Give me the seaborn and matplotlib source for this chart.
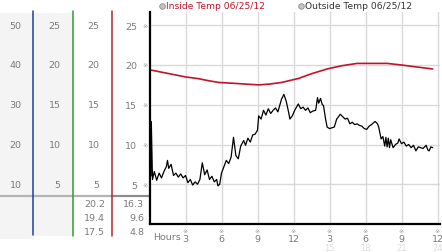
import matplotlib
matplotlib.use("Agg")
import matplotlib.pyplot as plt
import matplotlib.transforms as mtransforms
from matplotlib.patches import Rectangle
from matplotlib.lines import Line2D
import pandas as pd
import seaborn as sns

# ---------------- data ----------------
legend_labels = ["Inside Temp 06/25/12", "Outside Temp 06/25/12"]

inside_hours = [0.0, 1.0, 2.0, 3.0, 4.0, 5.0, 5.8, 7.0, 8.0, 9.1, 10.0, 11.0,
                12.4, 13.5, 14.8, 16.0, 17.3, 18.5, 19.8, 21.0, 22.0, 23.6]
inside_temp = [19.4, 19.1, 18.8, 18.5, 18.3, 18.0, 17.8, 17.7, 17.6, 17.5, 17.6, 17.8,
               18.3, 18.9, 19.5, 19.9, 20.2, 20.2, 20.2, 20.0, 19.8, 19.5]

outside_hours = [0.0, 0.05, 0.1, 0.15, 0.25, 0.4, 0.6, 0.8, 1.0, 1.2, 1.4, 1.5, 1.6, 1.8,
                 2.0, 2.2, 2.4, 2.6, 2.8, 3.0, 3.2, 3.4, 3.6, 3.8, 4.0, 4.2, 4.4, 4.6,
                 4.8, 5.0, 5.2, 5.4, 5.6, 5.7, 5.85, 6.0, 6.2, 6.4, 6.6, 6.8, 7.0, 7.2,
                 7.4, 7.6, 7.85, 8.0, 8.2, 8.4, 8.6, 8.8, 9.0, 9.1, 9.3, 9.5, 9.7, 9.9,
                 10.1, 10.3, 10.5, 10.7, 10.9, 11.0, 11.2, 11.4, 11.6, 11.7, 11.9, 12.1,
                 12.4, 12.6, 12.8, 13.0, 13.2, 13.4, 13.6, 13.85, 14.0, 14.1, 14.25, 14.4,
                 14.5, 14.65, 14.8, 15.0, 15.2, 15.4, 15.6, 15.8, 15.9, 16.1, 16.3, 16.5,
                 16.7, 16.9, 17.1, 17.3, 17.5, 17.7, 17.9, 18.1, 18.3, 18.5, 18.8, 19.0,
                 19.1, 19.3, 19.45, 19.6, 19.7, 19.8, 19.9, 20.0, 20.1, 20.3, 20.5, 20.7,
                 20.8, 21.0, 21.2, 21.4, 21.6, 21.8, 22.0, 22.2, 22.4, 22.6, 22.8, 23.05,
                 23.2, 23.3, 23.45, 23.6]
outside_temp = [6.5, 10.5, 6.0, 12.9, 5.6, 6.6, 5.5, 6.4, 5.8, 6.6, 7.2, 8.0, 7.0, 7.5,
                6.1, 6.4, 5.9, 6.3, 5.8, 6.1, 5.2, 5.6, 4.9, 5.3, 5.0, 5.6, 7.7, 6.2,
                6.8, 5.6, 6.0, 5.3, 5.6, 4.8, 5.0, 6.4, 7.2, 8.0, 7.6, 8.4, 10.9, 8.6,
                8.2, 9.8, 10.5, 9.9, 10.8, 10.3, 11.2, 11.3, 11.8, 13.6, 13.2, 14.3, 13.7, 14.5,
                13.9, 14.3, 14.6, 14.1, 15.2, 15.7, 16.3, 15.4, 14.0, 13.2, 13.6, 14.3,
                15.1, 14.5, 14.7, 14.3, 14.6, 14.0, 14.2, 14.3, 15.9, 15.2, 15.8, 15.0,
                14.9, 13.4, 12.2, 12.0, 12.1, 12.2, 13.2, 13.6, 13.8, 13.5, 13.2, 13.3,
                12.6, 12.8, 12.5, 12.6, 12.4, 12.3, 12.0, 11.9, 12.3, 12.5, 12.9, 12.6,
                12.2, 10.7, 11.0, 9.8, 10.9, 9.7, 10.8, 9.6, 10.6, 9.6, 10.0, 10.2,
                10.7, 10.1, 10.3, 9.8, 10.0, 9.6, 9.9, 9.2, 9.7, 9.6, 9.5, 9.9,
                9.3, 9.2, 9.7, 9.6]

y_ticks = [5, 10, 15, 20, 25]
col1_labels = ["10", "20", "30", "40", "50"]
col2_labels = ["5", "10", "15", "20", "25"]
col3_labels = ["5", "10", "15", "20", "25"]
col4_labels = ["5", "10", "15", "20", "25"]

x_ticks = [3, 6, 9, 12, 15, 18, 21, 24]
x_tick_labels = ["3", "6", "9", "12", "3", "6", "9", "12"]
x_faint_ticks = [15, 18, 21, 24]
x_faint_labels = ["15", "18", "21", "24"]

inside_stats = ["20.2", "19.4", "17.5"]
outside_stats = ["16.3", "9.6", "4.8"]

# ---------------- figure ----------------
sns.set_style("white")
plt.rcParams['font.family'] = ['DejaVu Sans']

W, H = 442, 253
fig = plt.figure(figsize=(W / 100, H / 100), dpi=100)
fig.patch.set_facecolor("white")


def fx(px):
    return px / W


def fy(py):
    return 1 - py / H


TXT = "#7a7a7a"
FS = 6.8

ax_left, ax_right, ax_top, ax_bottom = 149.5, 440.0, 13.0, 225.0
ax = fig.add_axes([fx(ax_left), fy(ax_bottom), (ax_right - ax_left) / W, (ax_bottom - ax_top) / H])
ax.set_zorder(1)
ax.patch.set_alpha(0)

df_in = pd.DataFrame({"hour": inside_hours, "temp": inside_temp})
df_out = pd.DataFrame({"hour": outside_hours, "temp": outside_temp})

sns.lineplot(data=df_in, x="hour", y="temp", ax=ax, color="#c0142a", lw=1.2, estimator=None)
sns.lineplot(data=df_out, x="hour", y="temp", ax=ax, color="black", lw=0.9, estimator=None)

ax.set_xlim(0, (ax_right - ax_left) / 12.0)
ax.set_ylim(0, (ax_bottom - ax_top) / 7.95)
ax.set_xlabel("")
ax.set_ylabel("")
ax.set_xticks(x_ticks)
ax.set_xticklabels(x_tick_labels)
ax.set_yticks(y_ticks)
ax.set_yticklabels(col4_labels)
ax.grid(True, color="#d9d9d9", lw=1.0)
ax.set_axisbelow(True)
ax.tick_params(axis="both", length=0, labelsize=FS, colors=TXT)
ax.tick_params(axis="y", pad=8.8)
ax.tick_params(axis="x", pad=7.0)
for s in ["top", "right"]:
    ax.spines[s].set_visible(False)
for s in ["left", "bottom"]:
    ax.spines[s].set_color("black")
    ax.spines[s].set_linewidth(1.6)

# reference marks
tr_y = mtransforms.blended_transform_factory(fig.transFigure, ax.transData)
tr_x = mtransforms.blended_transform_factory(ax.transData, fig.transFigure)
for v in y_ticks:
    ax.text(fx(145.5), v, "※", transform=tr_y, fontsize=4.5, color="#999999",
            ha="center", va="center", clip_on=False)
for h in x_ticks:
    ax.text(h, fy(231.5), "※", transform=tr_x, fontsize=4.5, color="#999999",
            ha="center", va="center", clip_on=False)
for h, lab in zip(x_faint_ticks, x_faint_labels):
    ax.text(h, fy(249), lab, transform=tr_x, fontsize=6.0, color="#dddddd",
            ha="center", va="center", clip_on=False)
fig.text(fx(153), fy(237.5), "Hours", fontsize=FS, color=TXT, ha="left", va="center")

# left panels background
fig.add_artist(Rectangle((0, fy(240)), fx(33), (240 - 14) / H, transform=fig.transFigure,
                         facecolor="#f4f4f4", edgecolor="none", zorder=-5))
fig.add_artist(Rectangle((fx(33), fy(237)), fx(39.5), (237 - 14) / H, transform=fig.transFigure,
                         facecolor="#f4f4f4", edgecolor="none", zorder=-5))

# column labels
for v, a, b, c in zip(y_ticks, col1_labels, col2_labels, col3_labels):
    ax.text(fx(21.5), v, a, fontsize=FS, color=TXT, ha="right", va="center", transform=tr_y, clip_on=False)
    ax.text(fx(60.5), v, b, fontsize=FS, color=TXT, ha="right", va="center", transform=tr_y, clip_on=False)
    ax.text(fx(99.5), v, c, fontsize=FS, color=TXT, ha="right", va="center", transform=tr_y, clip_on=False)

# separator lines
fig.add_artist(Line2D([0, fx(111.5)], [fy(197), fy(197)], color="#b4b4b4", lw=1.6, zorder=0))
fig.add_artist(Line2D([fx(111.5), fx(149)], [fy(197), fy(197)], color="#8c8c8c", lw=1.6, zorder=0))
fig.add_artist(Line2D([fx(33), fx(33)], [fy(12), fy(236)], color="#1f3f9a", lw=1.1, zorder=0))
fig.add_artist(Line2D([fx(72.5), fx(72.5)], [fy(12), fy(237)], color="#2e9e2e", lw=1.1, zorder=0))
fig.add_artist(Line2D([fx(111.5), fx(111.5)], [fy(12), fy(237)], color="#b02a2a", lw=1.1, zorder=0))

# stats
for i, (a, b) in enumerate(zip(inside_stats, outside_stats)):
    yy = 205 + 14 * i
    fig.text(fx(105), fy(yy), a, fontsize=FS, color=TXT, ha="right", va="center")
    fig.text(fx(144.5), fy(yy), b, fontsize=FS, color=TXT, ha="right", va="center")

# legend
fig.add_artist(Line2D([fx(162)], [fy(6.5)], marker="o", ms=4, mfc="#c4c4c4", mec="#8a8a8a", mew=0.6, lw=0))
fig.text(fx(166), fy(6.5), legend_labels[0], fontsize=6.6, color="#c0142a", ha="left", va="center")
fig.add_artist(Line2D([fx(301)], [fy(6.5)], marker="o", ms=4, mfc="#c4c4c4", mec="#8a8a8a", mew=0.6, lw=0))
fig.text(fx(305), fy(6.5), legend_labels[1], fontsize=6.6, color="#333333", ha="left", va="center")

fig.savefig("out.png", dpi=100)
